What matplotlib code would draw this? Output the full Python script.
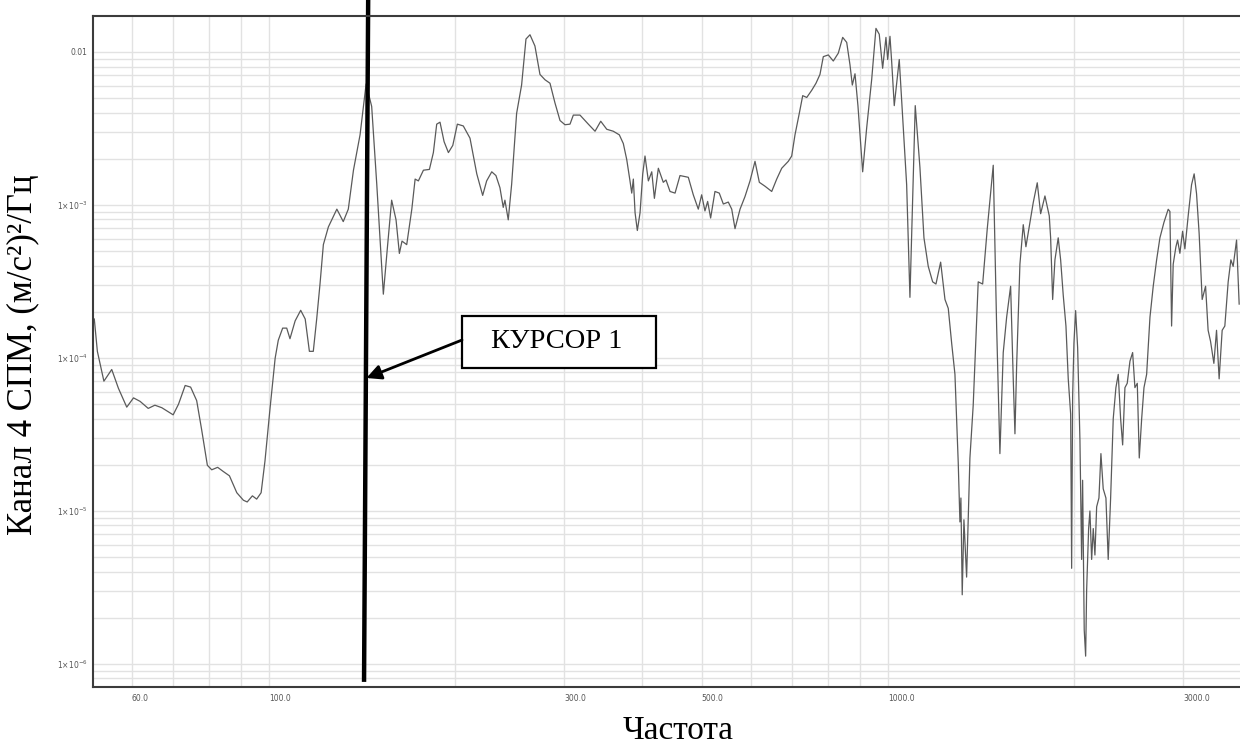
"""Спектральная плотность мощности, канал 4, с маркером КУРСОР 1."""

import math

import matplotlib
matplotlib.use("Agg")
import matplotlib.pyplot as plt
from matplotlib.patches import Rectangle
from matplotlib.ticker import FixedLocator, LogLocator, FuncFormatter, NullFormatter

# частота, Гц
freq = [
    52.2, 52.8, 54.1, 55.7, 57.1, 58.9, 60.4, 61.9, 63.8, 65.4, 67.1, 70.0, 71.4, 73.2, 74.7,
    76.4, 77.8, 79.5, 80.8, 82.6, 84.4, 86.3, 88.7, 90.9, 92.2, 94.0, 95.5, 97.1, 98.5, 100.4,
    102.3, 103.5, 105.2, 106.8, 108.1, 110.2, 112.5, 114.4, 116.2, 117.9, 119.4, 120.9, 122.4,
    124.7, 128.7, 131.8, 134.3, 136.9, 140.3, 143.5, 146.5, 149.3, 153.0, 155.3, 157.8, 160.4,
    162.4, 164.0, 166.9, 170.1, 172.2, 174.3, 177.6, 181.6, 184.3, 186.6, 188.9, 191.8, 194.9,
    198.1, 201.5, 206.0,
    211.2, 216.6, 221.4, 224.7, 229.0, 232.6, 236.1, 239.0, 240.5, 243.5, 246.6, 251.2, 255.9,
    260.1, 264.0, 268.9, 274.0, 279.2, 284.4, 289.7, 295.2, 300.7, 306.4, 310.2, 318.0, 328.0,
    336.3, 343.5, 351.3, 359.9, 368.1, 373.6, 378.4, 383.0, 385.5, 387.8, 390.3, 393.6, 397.6,
    401.6, 405.0, 410.1, 415.3, 419.4, 425.6, 433.5,
    437.9, 444.5, 452.9, 461.3, 475.8, 484.7, 493.8, 500.0, 506.2, 511.3, 517.0, 525.4, 533.9,
    542.0, 552.1, 559.2, 566.1, 576.8, 587.5, 598.6, 609.8, 619.7, 632.9, 648.9, 661.1, 673.5,
    690.2, 699.0, 707.6, 719.0, 728.2, 739.2, 753.0, 765.1, 776.5, 786.2, 801.0, 816.0, 831.3,
    845.0, 857.7, 868.3, 875.8, 884.6, 894.4,
    910.2, 923.9, 941.3, 956.3, 968.1, 980.4, 992.6, 998.9, 1007.5, 1013.9, 1023.7, 1042.9,
    1054.6, 1072.0, 1085.2, 1096.2, 1106.8, 1126.3, 1143.3, 1161.7, 1180.9, 1195.5, 1216.5,
    1236.3, 1251.5, 1267.5, 1283.0, 1298.8, 1307.0, 1311.8, 1318.2, 1326.6, 1339.9, 1356.5,
    1373.2, 1399.0, 1422.3, 1446.7, 1479.4, 1498.2, 1516.6, 1535.5, 1555.1, 1578.3, 1593.7,
    1603.9, 1614.0, 1633.8, 1654.2, 1670.7, 1695.9, 1716.7, 1742.6, 1764.8, 1793.2, 1822.3,
    1831.6, 1845.4, 1861.2, 1884.0, 1901.0, 1919.5, 1939.0, 1955.6, 1973.2, 1980.5, 1987.8,
    1997.5, 2010.0, 2025.2, 2042.6, 2055.4, 2063.0, 2075.4, 2086.4, 2094.1, 2109.6, 2119.8,
    2133.5, 2146.3, 2159.7, 2173.6, 2192.2, 2208.4, 2227.3, 2249.9, 2269.1, 2289.6, 2312.0,
    2335.0, 2355.5, 2376.2, 2394.3, 2414.8, 2435.4, 2460.4, 2484.9, 2506.1, 2528.3, 2547.0,
    2570.0, 2592.0, 2617.8, 2650.5, 2682.8, 2717.0, 2750.4, 2791.7, 2836.4, 2854.6, 2872.5,
    2889.7, 2919.2, 2937.3, 2962.5, 2992.6, 3018.2, 3055.3, 3093.9, 3124.0, 3151.9, 3182.5,
    3218.6, 3259.6, 3290.6, 3320.3, 3361.8, 3395.3, 3428.3, 3467.2, 3501.7, 3545.5, 3581.3,
    3612.0, 3657.9, 3693.5,
]

# СПМ, (м/с^2)^2/Гц
psd = [
    1.79e-4, 1.10e-4, 7.02e-5, 8.37e-5, 6.31e-5, 4.75e-5, 5.46e-5, 5.18e-5, 4.66e-5, 4.89e-5,
    4.71e-5, 4.23e-5, 4.96e-5, 6.58e-5, 6.42e-5, 5.24e-5, 3.41e-5, 1.98e-5, 1.85e-5, 1.92e-5,
    1.80e-5, 1.69e-5, 1.31e-5, 1.17e-5, 1.14e-5, 1.25e-5, 1.19e-5, 1.31e-5, 2.11e-5, 4.71e-5,
    9.92e-5, 1.30e-4, 1.56e-4, 1.56e-4, 1.33e-4, 1.74e-4, 2.04e-4, 1.79e-4, 1.10e-4, 1.10e-4,
    1.79e-4, 3.05e-4, 5.48e-4, 7.15e-4, 9.35e-4, 7.75e-4, 9.35e-4, 1.68e-3, 2.86e-3, 6.15e-3,
    4.39e-3, 1.36e-3, 2.60e-4, 5.20e-4, 1.07e-3, 7.96e-4, 4.80e-4, 5.78e-4, 5.48e-4, 9.35e-4,
    1.47e-3, 1.43e-3, 1.68e-3, 1.70e-3, 2.19e-3, 3.36e-3, 3.46e-3, 2.58e-3, 2.19e-3, 2.44e-3,
    3.36e-3, 3.27e-3,
    2.72e-3, 1.59e-3, 1.15e-3, 1.43e-3, 1.64e-3, 1.55e-3, 1.29e-3, 9.60e-4, 1.07e-3, 7.96e-4,
    1.36e-3, 3.95e-3, 6.05e-3, 1.21e-2, 1.29e-2, 1.09e-2, 7.10e-3, 6.55e-3, 6.22e-3, 4.63e-3,
    3.55e-3, 3.33e-3, 3.36e-3, 3.85e-3, 3.85e-3, 3.36e-3, 3.02e-3, 3.51e-3, 3.11e-3, 3.02e-3,
    2.86e-3, 2.51e-3, 1.97e-3, 1.43e-3, 1.19e-3, 1.47e-3, 8.86e-4, 6.78e-4, 8.86e-4, 1.59e-3,
    2.08e-3, 1.43e-3, 1.64e-3, 1.10e-3, 1.73e-3, 1.40e-3,
    1.45e-3, 1.22e-3, 1.19e-3, 1.55e-3, 1.51e-3, 1.16e-3, 9.35e-4, 1.16e-3, 9.10e-4, 1.05e-3,
    8.18e-4, 1.22e-3, 1.19e-3, 1.01e-3, 1.04e-3, 9.35e-4, 6.97e-4, 9.35e-4, 1.13e-3, 1.43e-3,
    1.92e-3, 1.40e-3, 1.32e-3, 1.22e-3, 1.47e-3, 1.73e-3, 1.92e-3, 2.08e-3, 2.86e-3, 3.95e-3,
    5.16e-3, 5.02e-3, 5.59e-3, 6.22e-3, 7.10e-3, 9.28e-3, 9.52e-3, 8.69e-3, 9.78e-3, 1.24e-2,
    1.15e-2, 8.19e-3, 6.05e-3, 7.17e-3, 4.42e-3,
    1.64e-3, 3.18e-3, 6.60e-3, 1.42e-2, 1.30e-2, 7.79e-3, 1.24e-2, 8.89e-3, 1.26e-2, 8.60e-3,
    4.44e-3, 8.89e-3, 4.15e-3, 1.35e-3, 2.48e-4, 1.10e-3, 4.44e-3, 1.75e-3, 6.07e-4, 3.95e-4,
    3.13e-4, 3.03e-4, 4.21e-4, 2.40e-4, 2.10e-4, 1.24e-4, 7.78e-5, 2.06e-5, 8.44e-6, 1.21e-5,
    2.82e-6, 8.72e-6, 3.68e-6, 2.21e-5, 4.89e-5, 3.13e-4, 3.03e-4, 6.92e-4, 1.81e-3, 1.61e-4,
    2.36e-5, 1.08e-4, 1.84e-4, 2.93e-4, 7.27e-5, 3.18e-5, 8.88e-5, 4.08e-4, 7.40e-4, 5.31e-4,
    7.65e-4, 1.03e-3, 1.39e-3, 8.73e-4, 1.14e-3, 8.45e-4,
    6.07e-4, 2.40e-4, 4.36e-4, 6.07e-4, 4.36e-4, 2.56e-4, 1.61e-4, 7.27e-5, 4.28e-5, 4.20e-6,
    5.58e-5, 1.24e-4, 2.03e-4, 1.16e-4, 2.88e-5, 4.80e-6, 1.58e-5, 1.66e-6, 1.12e-6, 3.02e-6,
    7.64e-6, 9.95e-6, 4.80e-6, 7.64e-6, 5.13e-6, 1.06e-5, 1.21e-5, 2.36e-5, 1.39e-5, 1.21e-5,
    4.80e-6, 1.21e-5, 4.00e-5, 6.37e-5, 7.78e-5, 4.00e-5, 2.69e-5, 6.37e-5, 6.80e-5, 9.49e-5,
    1.08e-4, 6.37e-5, 6.80e-5, 2.21e-5, 4.00e-5, 6.37e-5, 7.78e-5, 1.84e-4, 2.93e-4, 4.36e-4,
    6.07e-4, 7.65e-4, 9.33e-4, 9.03e-4, 1.61e-4, 4.08e-4, 5.31e-4, 5.87e-4, 4.81e-4, 6.70e-4,
    5.14e-4, 8.45e-4, 1.35e-3, 1.59e-3, 1.18e-3, 6.48e-4, 2.40e-4, 2.93e-4, 1.51e-4, 1.28e-4,
    9.18e-5, 1.51e-4, 7.27e-5, 1.51e-4, 1.61e-4, 3.13e-4, 4.36e-4, 3.95e-4, 5.87e-4, 2.24e-4,
]

# подписанные деления осей
x_major = [60, 100, 300, 500, 1000, 3000]
y_major = [1e-2, 1e-3, 1e-4, 1e-5, 1e-6]

# положение курсора (верх и низ линии)
cursor_freq = [144.6, 142.4]
cursor_psd = [0.0218, 7.6e-7]


def y_fmt(v, pos):
    if abs(v - 1e-2) < 1e-9:
        return "0.01"
    exp = int(round(math.log10(v)))
    return r"$1{\times}10^{%d}$" % exp


fig = plt.figure(figsize=(12.4, 7.49), dpi=100)
ax = fig.add_axes([0.075, 0.0828, 0.925, 0.8958])

ax.plot(freq, psd, color="#5a5a5a", lw=0.9)
ax.set_xscale("log")
ax.set_yscale("log")
ax.set_xlim(51.95, 3705)
ax.set_ylim(7.04e-7, 0.0171)

ax.xaxis.set_major_locator(FixedLocator(x_major))
ax.xaxis.set_major_formatter(FuncFormatter(lambda v, p: f"{v:.1f}"))
ax.xaxis.set_minor_locator(LogLocator(base=10, subs=range(2, 10), numticks=20))
ax.xaxis.set_minor_formatter(NullFormatter())
ax.yaxis.set_major_locator(FixedLocator(y_major))
ax.yaxis.set_major_formatter(FuncFormatter(y_fmt))
ax.yaxis.set_minor_locator(LogLocator(base=10, subs=range(2, 10), numticks=20))
ax.yaxis.set_minor_formatter(NullFormatter())

ax.grid(True, which="both", color="#e2e2e2", lw=1.0)
ax.set_axisbelow(True)
ax.tick_params(which="both", length=0)
ax.tick_params(axis="x", labelsize=5.5, labelcolor="#555555", pad=5)
ax.tick_params(axis="y", labelsize=5.5, labelcolor="#555555", pad=4)
for lab in ax.get_xticklabels():
    lab.set_horizontalalignment("left")

for side in ("left", "bottom", "top"):
    ax.spines[side].set_color("#3c3c3c")
    ax.spines[side].set_linewidth(1.5)
ax.spines["right"].set_visible(False)

# курсор
ax.plot(cursor_freq, cursor_psd, color="black", lw=3.2, clip_on=False, solid_capstyle="butt")

# подпись курсора с рамкой и стрелкой
ax.add_patch(Rectangle((0.3217, 0.4754), 0.1691, 0.0775, transform=ax.transAxes,
                       fill=True, facecolor="white", edgecolor="black", lw=1.6, zorder=5))
ax.text(0.4045, 0.5142, "КУРСОР 1", transform=ax.transAxes, ha="center", va="center",
        fontsize=20.5, family="Liberation Serif", zorder=6)
ax.annotate("", xy=(0.2384, 0.4605), xytext=(0.3217, 0.5171),
            xycoords="axes fraction", textcoords="axes fraction",
            arrowprops=dict(arrowstyle="-|>", color="black", lw=2.0, mutation_scale=22,
                            shrinkA=0, shrinkB=0), zorder=6)

fig.text(23 / 1240, 1 - 355 / 749, "Канал 4 СПМ, (м/с²)²/Гц", rotation=90,
         ha="center", va="center", fontsize=25, family="Liberation Serif")
fig.text(678 / 1240, 1 - 731 / 749, "Частота", ha="center", va="center",
         fontsize=24, family="Liberation Serif")

fig.savefig("out.png", dpi=100)
